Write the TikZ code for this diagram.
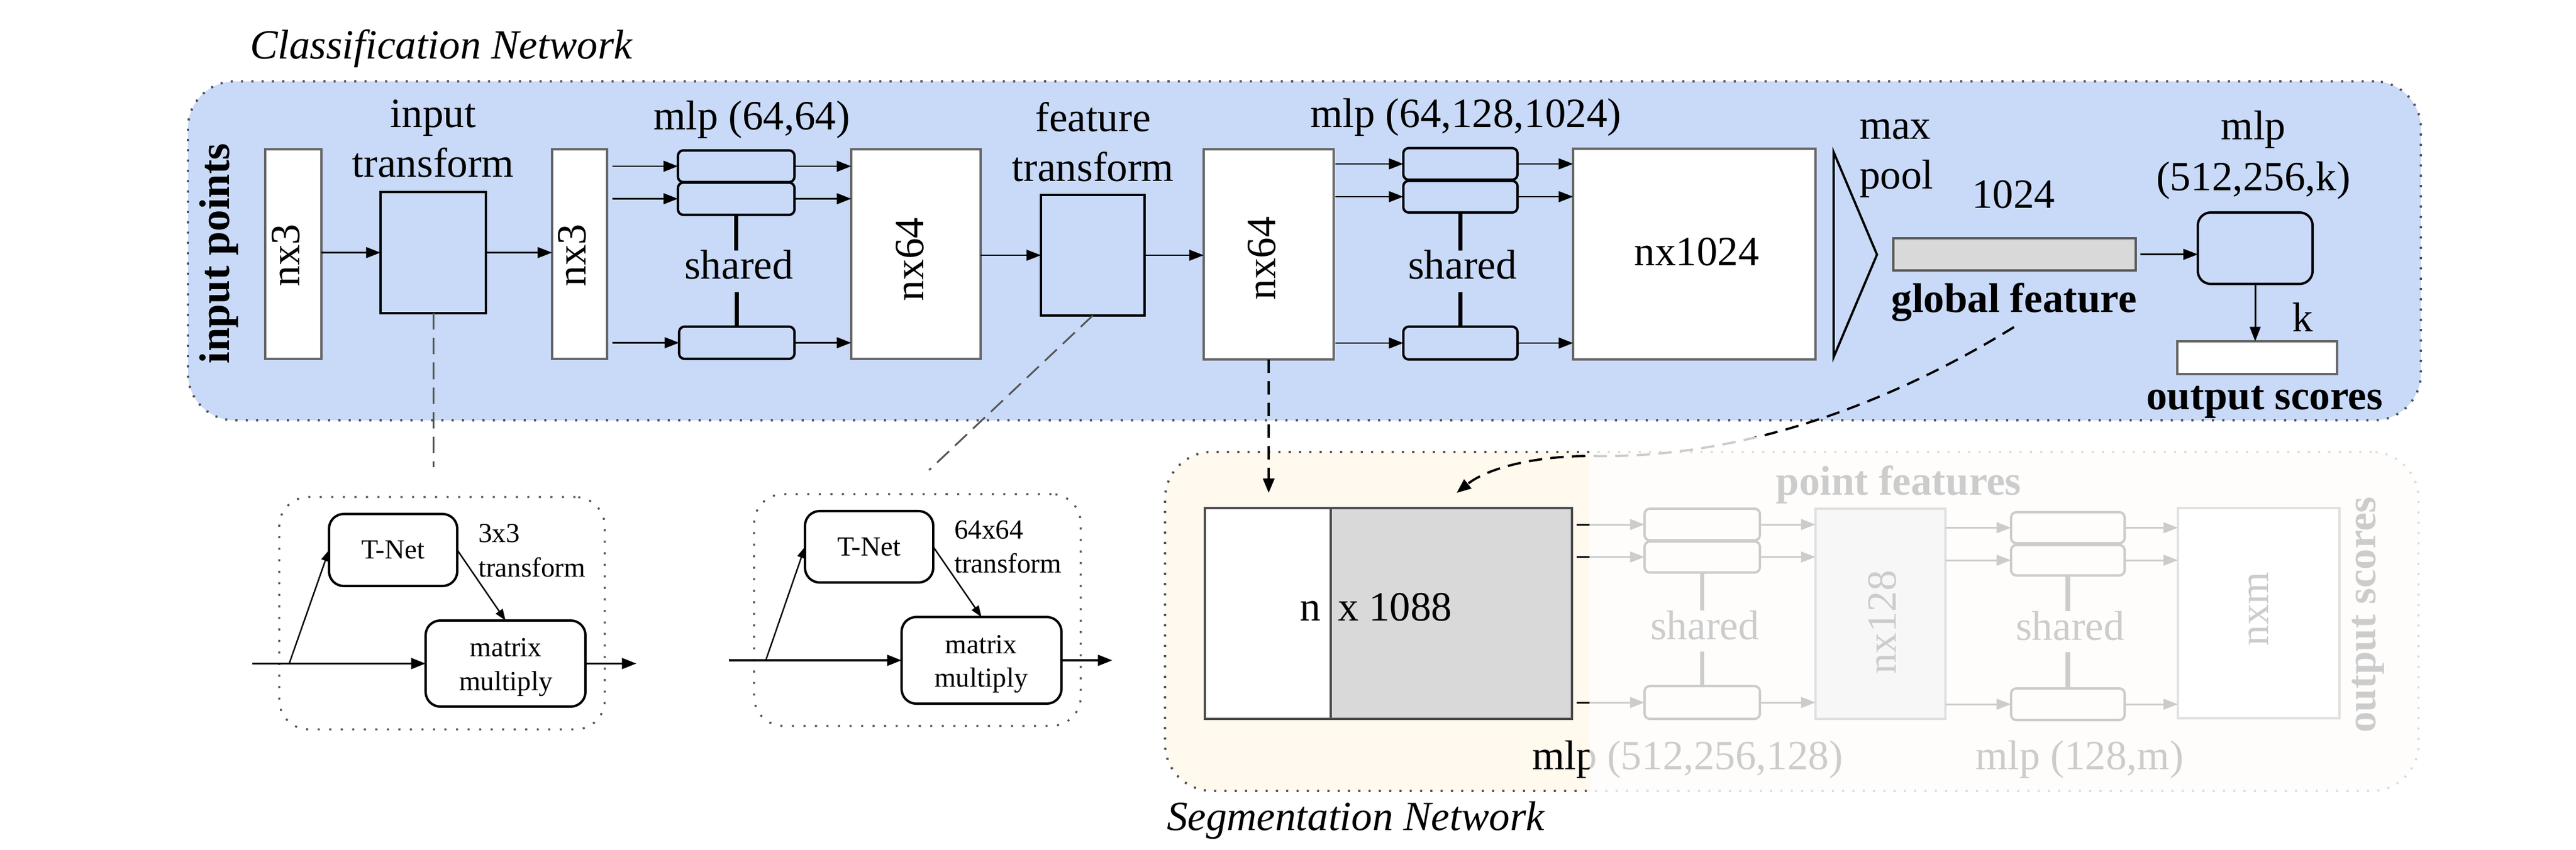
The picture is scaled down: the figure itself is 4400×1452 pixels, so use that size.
\documentclass[tikz,border=0pt]{standalone}
\usepackage{fontspec}
\setmainfont{Liberation Serif}
\usetikzlibrary{arrows.meta,calc}
\definecolor{cblue}{HTML}{C9DAF8}
\definecolor{ccream}{HTML}{FFF9EE}
\definecolor{cgfill}{HTML}{D9D9D9}
\definecolor{cbord}{HTML}{666666}
\definecolor{cdot}{HTML}{505050}
\definecolor{cdash}{HTML}{555555}
\newcommand\fbig{\fontsize{20.2pt}{24pt}\selectfont}
\newcommand\fsm{\fontsize{13.4pt}{16pt}\selectfont}
\newcommand\mkbox[6]{\node[#6, minimum width={(#4-#2)*0.01cm}, minimum height={(#5-#3)*0.01cm}] (#1) at ({(#2+#4)/2},{(#3+#5)/2}) {};}
\tikzset{
 wbox/.style={draw=cbord, line width=1.1pt, fill=white, inner sep=0, outer sep=0},
 tbox/.style={draw=black, line width=1pt, inner sep=0, outer sep=0},
 mbox/.style={draw=black, line width=1.15pt, rounded corners=0.09cm, inner sep=0, outer sep=0},
 tnbox/.style={draw=black, line width=1.15pt, rounded corners=0.25cm, inner sep=0, outer sep=0},
 arr/.style={line width=0.85pt, -{Triangle[length=7pt,width=5.2pt]}},
 thinarr/.style={line width=0.7pt, -{Triangle[length=5.5pt,width=4pt]}},
 sharedln/.style={line width=2.2pt},
 lab/.style={inner sep=0, outer sep=0, font=\fbig},
 slab/.style={inner sep=0, outer sep=0, font=\fsm},
 graydash/.style={draw=cdash, line width=0.85pt, dash pattern=on 8pt off 4pt},
 blackdash/.style={line width=1.1pt, dash pattern=on 6.5pt off 4pt, -{Triangle[length=7pt,width=5.5pt]}},
 bigcont/.style={line width=1.1pt, draw=cdot, dash pattern=on 1pt off 4pt, rounded corners=0.8cm, inner sep=0, outer sep=0},
 smallcont/.style={line width=0.95pt, draw=cdot, dash pattern=on 1pt off 4.6pt, rounded corners=0.5cm, inner sep=0, outer sep=0},
}
\begin{document}
\begin{tikzpicture}[x=0.01cm, y=-0.01cm]
\useasboundingbox (0,0) rectangle (4400,1452);
% containers
\mkbox{cls}{321}{139}{4135}{718}{bigcont, fill=cblue}
\mkbox{seg}{1990}{772}{4131}{1351}{bigcont, fill=ccream}
\mkbox{tn1c}{477}{849}{1033}{1246}{smallcont}
\mkbox{tn2c}{1288}{844}{1846}{1240}{smallcont}
% classification boxes
\mkbox{nx3a}{453}{255}{549}{613}{wbox}
\mkbox{itr}{650}{328}{830}{535}{tbox}
\mkbox{nx3b}{943}{255}{1037}{613}{wbox}
\mkbox{m1a}{1158}{257}{1357}{311}{mbox}
\mkbox{m1b}{1158}{312}{1357}{367}{mbox}
\mkbox{m1c}{1160}{558}{1357}{613}{mbox}
\mkbox{nx64a}{1454}{255}{1675}{613}{wbox}
\mkbox{ftr}{1778}{333}{1955}{539}{tbox}
\mkbox{nx64b}{2056}{255}{2278}{614}{wbox}
\mkbox{m2a}{2397}{253}{2592}{307}{mbox}
\mkbox{m2b}{2397}{309}{2592}{363}{mbox}
\mkbox{m2c}{2397}{558}{2592}{614}{mbox}
\mkbox{nx1024}{2687}{254}{3101}{614}{wbox}
\draw[line width=1.1pt, line join=miter] (3132,260) -- (3206,435) -- (3132,610) -- cycle;
\mkbox{gf}{3234}{407}{3648}{462}{wbox, fill=cgfill, draw=black!65}
\mkbox{mlpc}{3754}{363}{3950}{485}{mbox, rounded corners=0.22cm}
\mkbox{outr}{3719}{583}{3992}{639}{wbox}
% T-Net boxes
\mkbox{tn1}{562}{878}{781}{1001}{tnbox}
\mkbox{mm1}{727}{1060}{1000}{1207}{tnbox}
\mkbox{tn2}{1375}{873}{1594}{995}{tnbox}
\mkbox{mm2}{1540}{1054}{1813}{1202}{tnbox}
% segmentation boxes
\mkbox{nxl}{2058}{868}{2273}{1228}{wbox, draw=black!70}
\mkbox{nxr}{2273}{868}{2685}{1228}{wbox, fill=cgfill, draw=black!70}
\mkbox{s1a}{2809}{869}{3006}{923}{mbox}
\mkbox{s1b}{2809}{925}{3006}{978}{mbox}
\mkbox{s1c}{2809}{1172}{3006}{1228}{mbox}
\mkbox{nx128}{3101}{869}{3323}{1228}{wbox, fill=cgfill}
\mkbox{s2a}{3435}{875}{3629}{928}{mbox}
\mkbox{s2b}{3435}{931}{3629}{983}{mbox}
\mkbox{s2c}{3435}{1176}{3629}{1230}{mbox}
\mkbox{nxm}{3720}{868}{3996}{1227}{wbox}
% texts classification
\node[lab, anchor=base west, font=\fbig\itshape] (tcls) at (427,101) {Classification Network};
\node[lab, anchor=base] (tin1) at (740,218) {input};
\node[lab, anchor=base] (tin2) at (740,303) {transform};
\node[lab, anchor=base] (tmlp1) at (1284,222) {mlp (64,64)};
\node[lab, anchor=base] (tsh1) at (1262,477) {shared};
\node[lab, anchor=base] (tfe1) at (1867,225) {feature};
\node[lab, anchor=base] (tfe2) at (1867,310) {transform};
\node[lab, anchor=base] (tmlp2) at (2504,218) {mlp (64,128,1024)};
\node[lab, anchor=base] (tsh2) at (2498,477) {shared};
\node[lab, anchor=base] (tnx1024) at (2898,454) {nx1024};
\node[lab, anchor=base west] (tmax) at (3176,238) {max};
\node[lab, anchor=base west] (tpool) at (3176,323) {pool};
\node[lab, anchor=base] (t1024) at (3439,356) {1024};
\node[lab, anchor=base, font=\fbig\bfseries] (tgf) at (3440,533) {global feature};
\node[lab, anchor=base] (tmlp3) at (3849,239) {mlp};
\node[lab, anchor=base] (tmlp3b) at (3849,326) {(512,256,k)};
\node[lab, anchor=base] (tk) at (3933,566) {k};
\node[lab, anchor=base, font=\fbig\bfseries] (tos) at (3868,699) {output scores};
\node[lab, rotate=90, font=\fontsize{20.8pt}{24pt}\selectfont\bfseries] (tip) at (374,433) {input points};
\node[lab, rotate=90] (tnx3a) at (488,436) {nx3};
\node[lab, rotate=90] (tnx3b) at (977,436) {nx3};
\node[lab, rotate=90] (tnx64a) at (1554,443) {nx64};
\node[lab, rotate=90] (tnx64b) at (2155,441) {nx64};
% T-Net texts
\node[slab] (ttn1) at (tn1) {T-Net};
\node[slab, anchor=base west] (t3x3) at (817,926) {3x3};
\node[slab, anchor=base west] (ttr1) at (817,985) {transform};
\node[slab, anchor=base] (tmm1a) at (864,1121) {matrix};
\node[slab, anchor=base] (tmm1b) at (864,1179) {multiply};
\node[slab] (ttn2) at (tn2) {T-Net};
\node[slab, anchor=base west] (t64) at (1630,920) {64x64};
\node[slab, anchor=base west] (ttr2) at (1630,978) {transform};
\node[slab, anchor=base] (tmm2a) at (1676,1116) {matrix};
\node[slab, anchor=base] (tmm2b) at (1676,1173) {multiply};
% segmentation texts
\node[lab, anchor=base east] (tn) at (2256,1060) {n};
\node[lab, anchor=base west] (tx1088) at (2285,1060) {x 1088};
\node[lab, anchor=base, font=\fbig\bfseries] (tpf) at (3243,845) {point features};
\node[lab, anchor=base] (tsh3) at (2912,1092) {shared};
\node[lab, anchor=base] (tsh4) at (3536,1093) {shared};
\node[lab, rotate=90] (tnx128) at (3215,1063) {nx128};
\node[lab, rotate=90] (tnxm) at (3858,1040) {nxm};
\node[lab, rotate=90, font=\fbig\bfseries] (tos2) at (4045,1050) {output scores};
\node[lab, anchor=base west] (tmlp4) at (2617,1314) {mlp (512,256,128)};
\node[lab, anchor=base] (tmlp5) at (3552,1314) {mlp (128,m)};
\node[lab, anchor=base west, font=\fbig\itshape] (tseg) at (1993,1418) {Segmentation Network};
% classification connectors
\draw[arr] (itr.west -| nx3a.east) -- (itr.west);
\draw[arr] (itr.east) -- (itr.east -| nx3b.west);
\foreach \b in {m1a,m1b,m1c} {
  \draw[arr] (nx3b.east |- \b.west) ++(9,0) -- (\b.west);
  \draw[arr] (\b.east) -- (\b.east -| nx64a.west);
}
\draw[arr] (ftr.west -| nx64a.east) -- (ftr.west);
\draw[arr] (ftr.east) -- (ftr.east -| nx64b.west);
\foreach \b in {m2a,m2b,m2c} {
  \draw[arr] (nx64b.east |- \b.west) ++(3,0) -- (\b.west);
  \draw[arr] (\b.east) -- (\b.east -| nx1024.west);
}
\draw[arr] (gf.east) ++(8,0) -- (gf.east -| mlpc.west);
\draw[arr] (mlpc.south) -- (mlpc.south |- outr.north);
\draw[sharedln] (m1b.south) -- (m1b.south |- tsh1.north);
\draw[sharedln] (m1c.north |- tsh1.south) ++(0,21) -- (m1c.north);
\draw[sharedln] (m2b.south) -- (m2b.south |- tsh2.north);
\draw[sharedln] (m2c.north |- tsh2.south) ++(0,21) -- (m2c.north);
% T-Net connectors
\coordinate (in1) at (431,1133.5);
\coordinate (br1) at (494,1133.5);
\coordinate (out1) at (1087,1133.5);
\draw[arr, line width=1.1pt] (in1) -- (mm1.west);
\draw[thinarr] (br1) -- (tn1.west);
\draw[thinarr] (tn1.east) -- (mm1.north);
\draw[arr, line width=1.1pt] (mm1.east) -- (out1);
\coordinate (in2) at (1245,1128);
\coordinate (br2) at (1308,1128);
\coordinate (out2) at (1900,1128);
\draw[arr, line width=1.1pt] (in2) -- (mm2.west);
\draw[thinarr] (br2) -- (tn2.west);
\draw[thinarr] (tn2.east) -- (mm2.north);
\draw[arr, line width=1.1pt] (mm2.east) -- (out2);
% segmentation connectors
\foreach \b in {s1a,s1b,s1c} {
  \draw[arr] (nxr.east |- \b.west) ++(8,0) -- (\b.west);
  \draw[arr] (\b.east) -- (\b.east -| nx128.west);
}
\foreach \b in {s2a,s2b,s2c} {
  \draw[arr] (nx128.east |- \b.west) -- (\b.west);
  \draw[arr] (\b.east) -- (\b.east -| nxm.west);
}
\draw[sharedln] (s1b.south) -- (s1b.south |- tsh3.north);
\draw[sharedln] (s1c.north |- tsh3.south) ++(0,20) -- (s1c.north);
\draw[sharedln] (s2b.south) -- (s2b.south |- tsh4.north);
\draw[sharedln] (s2c.north |- tsh4.south) ++(0,20) -- (s2c.north);
% dashed links
\coordinate (d1e) at (740,798);
\draw[graydash] (itr.south) -- (d1e);
\coordinate (d2e) at (1587,803);
\draw[graydash] (ftr.south) -- (d2e);
\coordinate (d3e) at (2167,842);
\draw[blackdash] (nx64b.south) -- (d3e);
\coordinate (d4e) at (2488,842);
\draw[blackdash] ([yshift=-0.1cm]tgf.south) .. controls (3260,670) and (3000,785) .. (2715,779) .. controls (2620,779) and (2540,800) .. (d4e);
% fade overlay
\fill[white, opacity=0.8] (2715,746) rectangle (4200,1370);
\end{tikzpicture}
\end{document}
